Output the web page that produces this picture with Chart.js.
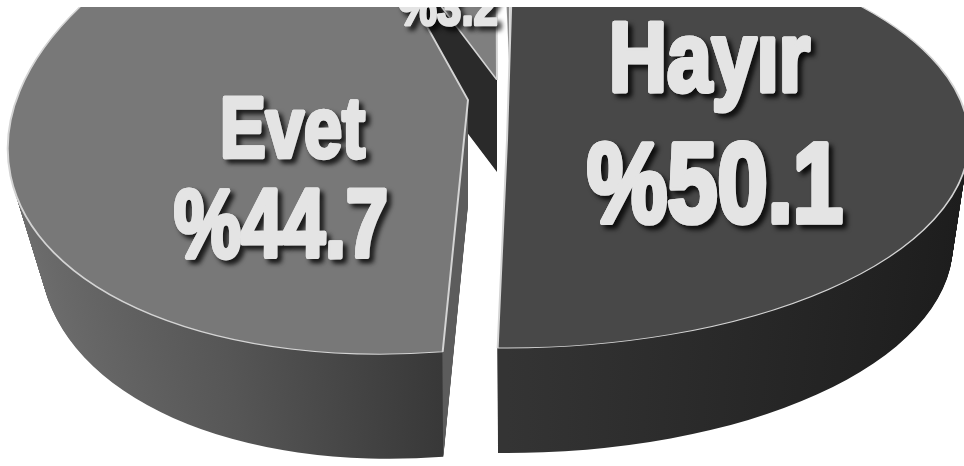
<!DOCTYPE html>
<html>
  <head>
    <meta charset="utf-8">
    <script src="https://cdnjs.cloudflare.com/ajax/libs/Chart.js/4.4.1/chart.umd.min.js"></script>
    <style>
      html, body { margin: 0; padding: 0; background: #fff; overflow: hidden; }
      #wrap { position: relative; width: 964px; height: 466px; }
    </style>
  </head>
  <body>
    <div id="wrap"><canvas id="pieChart" width="964" height="466"></canvas></div>
    <script>
      const categories = ['Hayır', 'Evet', 'Fikri yok', 'Diğer'];
      const values = [50.1, 44.7, 3.2, 2.0];
      const topColors = ['#484848', '#787878', '#7f7f7f', '#8a8a8a'];
      const rotationDeg = 0.8;

      // tilted, pulled-apart look: every slice gets its own affine map
      // apex = where the tip lands, a b c d = circle to ellipse, depth = side height, shrink = narrowing of the base
      const placing = [
        { apex: [507, 140], a: 462, b: 0, c: 0, d: 208, depth: 105, shrink: 0.035 },
        { apex: [468, 100], a: 460, b: -40, c: -16, d: 251, depth: 105, shrink: 0.07 },
        { apex: [497, 80], a: 460, b: 0, c: -51, d: 129, depth: 92, shrink: 0 },
        { apex: [509, 60], a: 24, b: 0, c: 0, d: 60, depth: 0, shrink: 0 }
      ];
      const sideStops = [
        [[0, '#343434'], [0.5, '#343434'], [1, '#1d1d1d']],
        [[0, '#6e6e6e'], [0.25, '#565656'], [0.489, '#383838'], [0.49, '#5c5c5c'], [1, '#5c5c5c']],
        [[0, '#2a2a2a'], [1, '#2a2a2a']],
        [[0, '#555555'], [1, '#555555']]
      ];
      const drawOrder = [3, 2, 0, 1];

      const labels = [
        { text: '%3.2', x: 398, y: 25, w: 100, size: 54 },
        { text: 'Evet', x: 220, y: 157, w: 145, size: 86 },
        { text: '%44.7', x: 174, y: 257, w: 214, size: 96 },
        { text: 'Hayır', x: 609, y: 91, w: 201, size: 98 },
        { text: '%50.1', x: 587, y: 222, w: 256, size: 114 }
      ];

      function applyPlacing(ctx, arc, p, t) {
        const R = arc.outerRadius;
        const k = 1 - p.shrink * t;
        const a = p.a * k / R, b = p.b * k / R, c = p.c / R, d = p.d / R;
        const ex = p.apex[0], ey = p.apex[1] + p.depth * t;
        ctx.transform(a, b, c, d, ex - a * arc.x - c * arc.y, ey - b * arc.x - d * arc.y);
      }

      const tiltPlugin = {
        id: 'tilt',
        beforeDatasetsDraw(chart) {
          const ctx = chart.ctx;
          const arcs = chart.getDatasetMeta(0).data;
          ctx.save();
          ctx.beginPath();
          ctx.rect(0, 7, 964, 459);
          ctx.clip();
          drawOrder.forEach(i => {
            const arc = arcs[i];
            const p = placing[i];
            const own = arc.options;
            const grad = ctx.createLinearGradient(arc.x - arc.outerRadius, 0, arc.x + arc.outerRadius, 0);
            sideStops[i].forEach(s => grad.addColorStop(s[0], s[1]));
            arc.options = {
              backgroundColor: grad, borderColor: grad, borderWidth: 0, offset: 0, spacing: 0,
              borderRadius: 0, circular: true, borderAlign: 'center', borderJoinStyle: 'round',
              borderDash: [], borderDashOffset: 0
            };
            for (let n = p.depth; n > 0; n--) {
              ctx.save();
              applyPlacing(ctx, arc, p, n / p.depth);
              arc.draw(ctx);
              ctx.restore();
            }
            arc.options = own;
            ctx.save();
            applyPlacing(ctx, arc, p, 0);
            arc.draw(ctx);
            ctx.restore();
          });
          ctx.restore();
          return false;
        },
        afterDraw(chart) {
          const ctx = chart.ctx;
          ctx.save();
          ctx.beginPath();
          ctx.rect(0, 7, 964, 459);
          ctx.clip();
          labels.forEach(l => {
            ctx.save();
            ctx.font = 'bold ' + l.size + 'px "Liberation Sans Narrow", "Liberation Sans", sans-serif';
            const sx = l.w / ctx.measureText(l.text).width;
            ctx.translate(l.x, l.y);
            ctx.scale(sx, 1);
            ctx.lineJoin = 'round';
            ctx.shadowColor = 'rgba(0,0,0,0.75)';
            ctx.shadowBlur = 5;
            ctx.shadowOffsetX = 4;
            ctx.shadowOffsetY = 4;
            ctx.strokeStyle = '#e4e4e4';
            ctx.lineWidth = l.size / 20;
            ctx.strokeText(l.text, 0, 0);
            ctx.fillStyle = '#e4e4e4';
            ctx.fillText(l.text, 0, 0);
            ctx.shadowColor = 'transparent';
            ctx.strokeText(l.text, 0, 0);
            ctx.fillText(l.text, 0, 0);
            ctx.restore();
          });
          ctx.restore();
        }
      };

      new Chart(document.getElementById('pieChart'), {
        type: 'pie',
        data: {
          labels: categories,
          datasets: [{
            data: values,
            backgroundColor: topColors,
            borderColor: '#d4d4d4',
            borderWidth: 1
          }]
        },
        options: {
          responsive: false,
          animation: false,
          rotation: rotationDeg,
          plugins: { legend: { display: false }, tooltip: { enabled: false } }
        },
        plugins: [tiltPlugin]
      });
    </script>
  </body>
</html>
